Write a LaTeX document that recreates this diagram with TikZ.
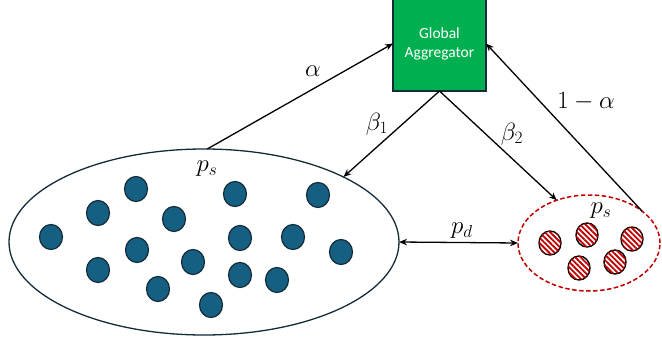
\documentclass[tikz,border=0pt]{standalone}
\usepackage{fontspec}
\newfontfamily\boxfont{Carlito}
\usetikzlibrary{shapes.geometric,arrows.meta,patterns.meta}
\definecolor{boxgreen}{HTML}{00B050}
\definecolor{darkline}{HTML}{142B38}
\definecolor{dotblue}{HTML}{156082}
\definecolor{hatchred}{HTML}{C00000}
\begin{document}
\begin{tikzpicture}[x=1pt,y=-1pt,
  conn/.style={line width=1.3pt,black,-{Stealth[length=8pt,width=6.5pt]}},
  dconn/.style={line width=1.3pt,black,{Stealth[length=8pt,width=6.5pt]}-{Stealth[length=8pt,width=6.5pt]}},
  bluedot/.style={ellipse,draw=darkline,line width=1.2pt,fill=dotblue,minimum width=23pt,minimum height=25pt,inner sep=0pt},
  reddot/.style={ellipse,draw=black,line width=1.4pt,fill=white,minimum width=22pt,minimum height=24pt,inner sep=0pt,
    postaction={pattern={Lines[angle=-45,distance=3.8pt,line width=1.9pt]},pattern color=hatchred}},
  lbl/.style={font=\fontsize{24}{28}\selectfont,inner sep=0pt}
]
\useasboundingbox (0,0) rectangle (662,343);
% group ellipses
\node[ellipse,draw=darkline,line width=1.3pt,minimum width=390pt,minimum height=186pt,inner sep=0pt,outer sep=0pt] (big) at (204,242) {};
\node[ellipse,draw=hatchred,dashed,dash pattern=on 4.5pt off 2.5pt,line width=1.5pt,minimum width=142pt,minimum height=96pt,inner sep=0pt,outer sep=0pt] (small) at (589,243) {};
% aggregator
\node[rectangle,draw=darkline,line width=1.3pt,fill=boxgreen,minimum width=93pt,minimum height=95pt,inner sep=0pt,outer sep=0pt,
  text=white,align=center,font=\boxfont\fontsize{15.5}{19}\selectfont] (box) at (439.5,43.5) {Global\\Aggregator};
% blue dots
\foreach \n/\x/\y in {d1/51/237,d2/98/213,d3/136/189,d4/98/270,d5/137/250,d6/174/219,d7/158/289,d8/193/262,
  d9/211/305,d10/235/194,d11/240/238,d12/240/275,d13/277/280,d14/293/237,d15/318/195,d16/341/252}
  \node[bluedot] (\n) at (\x,\y) {};
% red hatched dots
\foreach \n/\x/\y in {r1/550/243,r2/587/235,r3/632/239,r4/579/268,r5/615/262}
  \node[reddot] (\n) at (\x,\y) {};
% connectors
\draw[conn] (big.88) -- (box.west);
\draw[conn] (box.south) -- (big.25.5);
\draw[conn] (box.south) -- (small.127);
\draw[conn] (small.31) -- (box.east);
\draw[dconn] (big.east) -- (small.west);
% labels
\node[lbl] (la) at (313,71) {$\alpha$};
\node[lbl] (lb1) at (377,124) {$\beta_1$};
\node[lbl] (lb2) at (512,134) {$\beta_2$};
\node[lbl] (l1a) at (586,102) {$1-\alpha$};
\node[lbl] (lpd) at (462,231) {$p_d$};
\node[lbl] (lps1) at (207,169) {$p_s$};
\node[lbl] (lps2) at (601,211) {$p_s$};
\end{tikzpicture}
\end{document}
